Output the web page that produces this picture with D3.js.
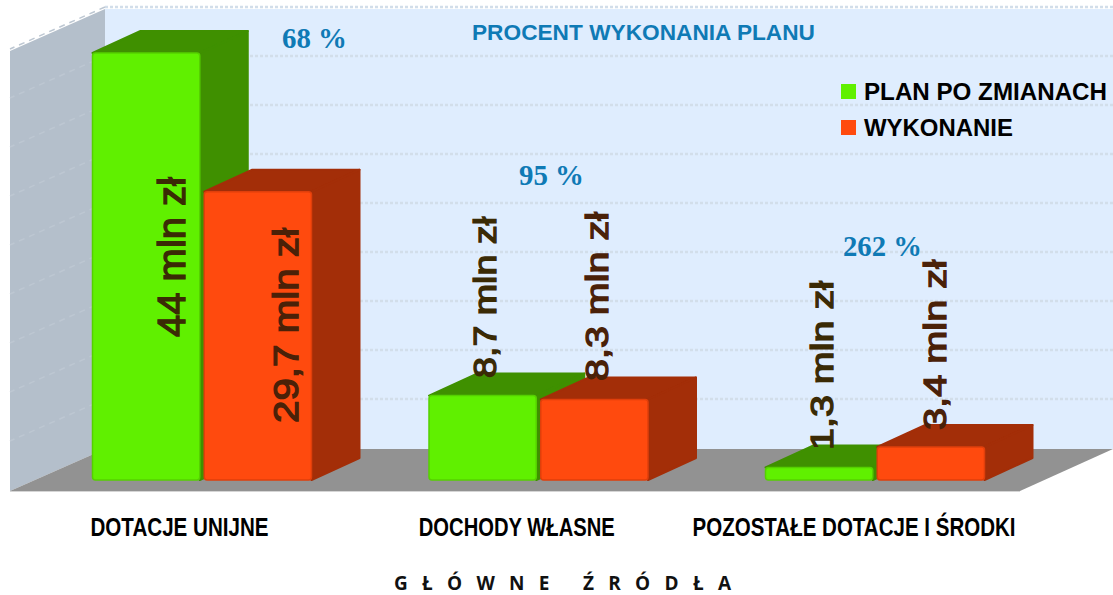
<!DOCTYPE html>
<html><head><meta charset="utf-8">
<script src="https://cdn.jsdelivr.net/npm/d3@7/dist/d3.min.js"></script>
<style>html,body{margin:0;padding:0;background:#fff}svg{display:block}</style>
</head><body><svg id="c" width="1113" height="595"></svg>
<script>
const categories = ["DOTACJE UNIJNE","DOCHODY WŁASNE","POZOSTAŁE DOTACJE I ŚRODKI"];
const seriesNames = ["PLAN PO ZMIANACH","WYKONANIE"];
const planValues = [44,8.7,1.3];
const execValues = [29.7,8.3,3.4];
const planLabels = ["44 mln zł","8,7 mln zł","1,3 mln zł"];
const execLabels = ["29,7 mln zł","8,3 mln zł","3,4 mln zł"];
const percentLabels = ["68 %","95 %","262 %"];
const gridTicks = [5,10,15,20,25,30,35,40,45];
const titleText = "PROCENT WYKONANIA PLANU";
const axisTitle = "G Ł Ó W N E   Ź R Ó D Ł A";

const W=1113,H=595, dx=48, dy=-22;
const frontColors=["#60f000","#ff4a0e"], frontEdges=["#55d000","#e03f0b"], sideColors=["#3f9000","#a32e08"], topColors=["#3f9000","#a32e08"];
const textColors=["#3a2a05","#4a2108"];
const sans="'Liberation Sans',Arial,sans-serif", serif="'Liberation Serif',serif";
const svg=d3.select("#c");

const y=d3.scaleLinear().domain([0,44]).range([480,53]);
const gridY=d3.scaleLinear().domain([0,45]).range([448,7]);
const groupX=d3.scalePoint().domain(categories).range([92.5,765.5]);
const barX=d3.scaleBand().domain(seriesNames).range([0,219]).paddingInner(0.04);
const axisX=d3.scalePoint().domain(categories).range([179,853.5]);

// walls
const wx0=10,wx1=105,wt=9,wb=449,fb=491,fr=1020;
const line=d3.line();
svg.append("path").attr("d",line([[wx1,wt],[W,wt],[W,wb],[wx1,wb]])+"Z").attr("fill","#dfedfe");
svg.append("path").attr("d",line([[wx0,wt+42],[wx1,wt],[wx1,wb],[wx0,fb]])+"Z").attr("fill","#b4bfcb");
svg.append("path").attr("d",line([[wx0,fb],[wx1,wb],[W,wb],[fr,fb]])+"Z").attr("fill","#929292");
svg.append("line").attr("x1",wx0).attr("x2",fr).attr("y1",fb+.5).attr("y2",fb+.5).attr("stroke","#d5d5d5").attr("stroke-width",1);
// grid
svg.append("g").selectAll("line").data(gridTicks).join("line")
  .attr("x1",wx1).attr("x2",W).attr("y1",d=>gridY(d)).attr("y2",d=>gridY(d))
  .attr("stroke","#d2deea").attr("stroke-width",2.5).attr("stroke-dasharray","3 2");
svg.append("g").selectAll("line").data(gridTicks).join("line")
  .attr("x1",wx1).attr("x2",wx0).attr("y1",d=>gridY(d)).attr("y2",d=>gridY(d)+42)
  .attr("stroke","#bdc7d2").attr("stroke-width",1.5).attr("stroke-dasharray","6 5");

// bars
const bars=[];
categories.forEach((c,i)=>{
  [planValues,execValues].forEach((vals,s)=>bars.push({c,s,v:vals[i]}));
});
const g=svg.append("g");
bars.forEach(b=>{
  const x0=groupX(b.c)+barX(seriesNames[b.s]), w=barX.bandwidth(), top=y(b.v), bot=y(0);
  const x1=x0+w;
  g.append("path").attr("d",line([[x0,top],[x0+dx,top+dy],[x1+dx,top+dy],[x1,top]])+"Z")
    .attr("fill",topColors[b.s]).attr("stroke",topColors[b.s]).attr("stroke-width",2).attr("stroke-linejoin","round");
  g.append("path").attr("d",line([[x1,top],[x1+dx,top+dy],[x1+dx,bot+dy],[x1,bot]])+"Z")
    .attr("fill",sideColors[b.s]).attr("stroke",sideColors[b.s]).attr("stroke-width",2).attr("stroke-linejoin","round");
  g.append("rect").attr("x",x0).attr("y",top).attr("width",w).attr("height",bot-top).attr("rx",3)
    .attr("fill",frontColors[b.s]).attr("stroke",frontEdges[b.s]).attr("stroke-width",1.5);
});

// value labels (rotated): centre x, bottom y, length
const labelLayout=[[172,337,160],[285,423,195],[485,378,161],[597,381,169],[822,450,169],[935,430,170]];
const labelTexts=[planLabels[0],execLabels[0],planLabels[1],execLabels[1],planLabels[2],execLabels[2]];
const labelSizes=[38,35,32,32,32,32];
labelTexts.forEach((t,i)=>{
  const [cx,by,len]=labelLayout[i];
  svg.append("text").text(t)
    .attr("transform",`translate(${cx},${by}) rotate(-90)`)
    .attr("dominant-baseline","central")
    .attr("font-family",sans).attr("font-size",labelSizes[i])
    .attr("stroke",textColors[i%2]).attr("stroke-width",1.3)
    .attr("fill",textColors[i%2]).attr("textLength",len).attr("lengthAdjust","spacingAndGlyphs");
});

// percent labels
const pctLayout=[[314.5,48],[551.5,185],[882.5,256]];
const pctLen=[65,65,79];
percentLabels.forEach((t,i)=>{
  svg.append("text").text(t).attr("x",pctLayout[i][0]).attr("y",pctLayout[i][1])
    .attr("text-anchor","middle").attr("font-family",serif).attr("font-weight",700).attr("font-size",29).attr("fill","#0f7ab5")
    .attr("textLength",pctLen[i]).attr("lengthAdjust","spacingAndGlyphs");
});
svg.append("text").text(titleText).attr("x",472).attr("y",40).attr("font-family",sans).attr("font-weight",700)
  .attr("font-size",22).attr("fill","#0f7ab5").attr("textLength",343).attr("lengthAdjust","spacingAndGlyphs");

// legend
const legY=[84,120], legW=[243,149];
seriesNames.forEach((n,i)=>{
  svg.append("rect").attr("x",841).attr("y",legY[i]).attr("width",15).attr("height",15).attr("fill",frontColors[i]);
  svg.append("text").text(n).attr("x",864).attr("y",legY[i]+16).attr("font-family",sans).attr("font-weight",700)
    .attr("font-size",23).attr("fill","#000").attr("textLength",legW[i]).attr("lengthAdjust","spacingAndGlyphs");
});

// category axis
const axisG=svg.append("g").attr("transform","translate(0,519)").call(d3.axisBottom(axisX).tickSize(0).tickPadding(0));
axisG.select(".domain").remove();
const catW=[178,196,323];
axisG.selectAll("text").attr("font-family",sans).attr("font-weight",700).attr("font-size",25).attr("fill","#000")
  .attr("dy",null).attr("y",17).attr("textLength",(d,i)=>catW[i]).attr("lengthAdjust","spacingAndGlyphs");

svg.append("text").text(axisTitle).attr("x",394).attr("y",590).attr("xml:space","preserve").style("white-space","pre")
  .attr("font-family","'Open Sans',sans-serif").attr("font-weight",700).attr("font-size",19).attr("fill","#111")
  .attr("textLength",337).attr("lengthAdjust","spacing");
</script></body></html>
